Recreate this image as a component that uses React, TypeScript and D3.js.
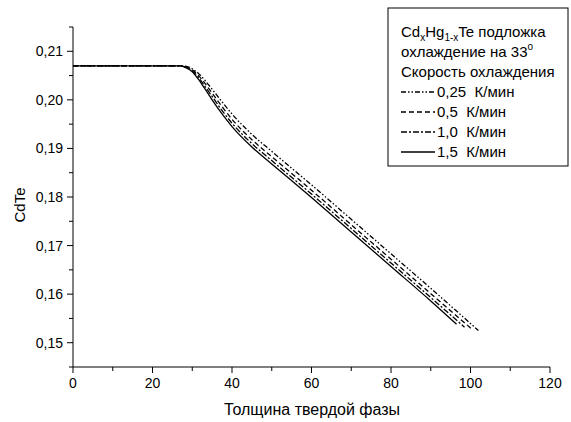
import React from "react";
import * as d3 from "d3";

const xTicks = [0, 20, 40, 60, 80, 100, 120];
const yTicks = [0.15, 0.16, 0.17, 0.18, 0.19, 0.2, 0.21];

const xs025 = [0, 27, 28.5, 30, 31.5, 33, 35, 37.5, 40, 45, 50, 60, 70, 80, 90, 102];
const ys025 = [0.207, 0.207, 0.2069, 0.2064, 0.2055, 0.2042, 0.2022, 0.1996, 0.1971, 0.1929, 0.1894, 0.1825, 0.1754, 0.1683, 0.1612, 0.1525];

const xs05 = [0, 27, 28.5, 30, 31.5, 33, 35, 37.5, 40, 45, 50, 60, 70, 80, 90, 100.5];
const ys05 = [0.207, 0.207, 0.2068, 0.2062, 0.2051, 0.2036, 0.2014, 0.1986, 0.196, 0.1918, 0.1883, 0.1814, 0.1743, 0.1672, 0.1601, 0.1527];

const xs10 = [0, 27, 28.5, 30, 31.5, 33, 35, 37.5, 40, 45, 50, 60, 70, 80, 90, 98.5];
const ys10 = [0.207, 0.207, 0.2067, 0.206, 0.2047, 0.203, 0.2007, 0.1978, 0.1952, 0.191, 0.1875, 0.1806, 0.1735, 0.1664, 0.1593, 0.1532];

const xs15 = [0, 27, 28.5, 30, 31.5, 33, 35, 37.5, 40, 45, 50, 60, 70, 80, 90, 96.5];
const ys15 = [0.207, 0.207, 0.2066, 0.2058, 0.2043, 0.2025, 0.2, 0.1971, 0.1945, 0.1903, 0.1868, 0.1799, 0.1728, 0.1657, 0.1586, 0.1538];

const seriesLabels = ["0,25  К/мин", "0,5  К/мин", "1,0  К/мин", "1,5  К/мин"];

const FONT = "'Liberation Sans', Arial, sans-serif";

export default function App() {
  const x = d3.scaleLinear().domain([0, 120]).range([73, 550]);
  const y = d3.scaleLinear().domain([0.145, 0.215]).range([367, 27]);
  const line = d3
    .line<[number, number]>()
    .x((d) => x(d[0]))
    .y((d) => y(d[1]))
    .curve(d3.curveMonotoneX);

  const series = [
    { xs: xs025, ys: ys025, dash: "5,2,1.5,2,1.5,2" },
    { xs: xs05, ys: ys05, dash: "5,3" },
    { xs: xs10, ys: ys10, dash: "6,2,2,2" },
    { xs: xs15, ys: ys15, dash: "none" },
  ];

  const xMinor = d3.range(0, 121, 10);
  const yMinor = d3.range(0, 15).map((i) => +(0.145 + i * 0.005).toFixed(3));
  const fmt = (v: number) => d3.format(".2f")(v).replace(".", ",");

  const legX = 388;
  const legY = 8;
  const textX = 401;
  const rowBase = (i: number) => 37 + i * 20;

  return (
    <svg
      width={571}
      height={422}
      style={{ position: "fixed", left: 0, top: 0, background: "#fff" }}
      fontFamily={FONT}
    >
      <rect x={0} y={0} width={571} height={422} fill="#fff" />
      {/* axes */}
      <line x1={73} x2={73} y1={y(0.215)} y2={367} stroke="#000" strokeWidth={1} />
      <line x1={73} x2={550} y1={367} y2={367} stroke="#000" strokeWidth={1} />
      {xMinor.map((v) => (
        <line key={"xm" + v} x1={x(v)} x2={x(v)} y1={367} y2={v % 20 === 0 ? 373 : 371} stroke="#000" strokeWidth={1} />
      ))}
      {yMinor.map((v) => {
        const major = yTicks.some((t) => Math.abs(t - v) < 1e-6);
        return <line key={"ym" + v} x1={major ? 67 : 69} x2={73} y1={y(v)} y2={y(v)} stroke="#000" strokeWidth={1} />;
      })}
      {xTicks.map((v) => (
        <text key={"xt" + v} x={x(v)} y={388} textAnchor="middle" fontSize={14}>
          {v}
        </text>
      ))}
      {yTicks.map((v) => (
        <text key={"yt" + v} x={63} y={y(v) + 5} textAnchor="end" fontSize={14}>
          {fmt(v)}
        </text>
      ))}
      <text x={312} y={415} textAnchor="middle" fontSize={16}>
        Толщина твердой фазы
      </text>
      <text transform="translate(25,205) rotate(-90)" textAnchor="middle" fontSize={15}>
        CdTe
      </text>

      {/* curves */}
      {series.map((s, i) => (
        <path
          key={"s" + i}
          d={line(s.xs.map((v, j) => [v, s.ys[j]] as [number, number])) || ""}
          fill="none"
          stroke="#000"
          strokeWidth={1.3}
          strokeDasharray={s.dash}
        />
      ))}

      {/* legend */}
      <rect x={legX} y={legY} width={180} height={158} fill="#fff" stroke="#000" strokeWidth={1} />
      <text x={textX} y={rowBase(0)} fontSize={15}>
        Cd
        <tspan fontSize={10} dy={4}>x</tspan>
        <tspan dy={-4}>Hg</tspan>
        <tspan fontSize={10} dy={4}>1-x</tspan>
        <tspan dy={-4}>Te подложка</tspan>
      </text>
      <text x={textX} y={rowBase(1)} fontSize={15}>
        охлаждение на 33
        <tspan fontSize={10} dy={-7}>o</tspan>
      </text>
      <text x={textX} y={rowBase(2)} fontSize={15}>
        Скорость охлаждения
      </text>
      {series.map((s, i) => (
        <g key={"lg" + i}>
          <line
            x1={textX}
            x2={435}
            y1={rowBase(3 + i) - 5}
            y2={rowBase(3 + i) - 5}
            stroke="#000"
            strokeWidth={1.3}
            strokeDasharray={s.dash}
          />
          <text x={437} y={rowBase(3 + i)} fontSize={15} style={{ whiteSpace: "pre" }}>
            {seriesLabels[i]}
          </text>
        </g>
      ))}
    </svg>
  );
}
